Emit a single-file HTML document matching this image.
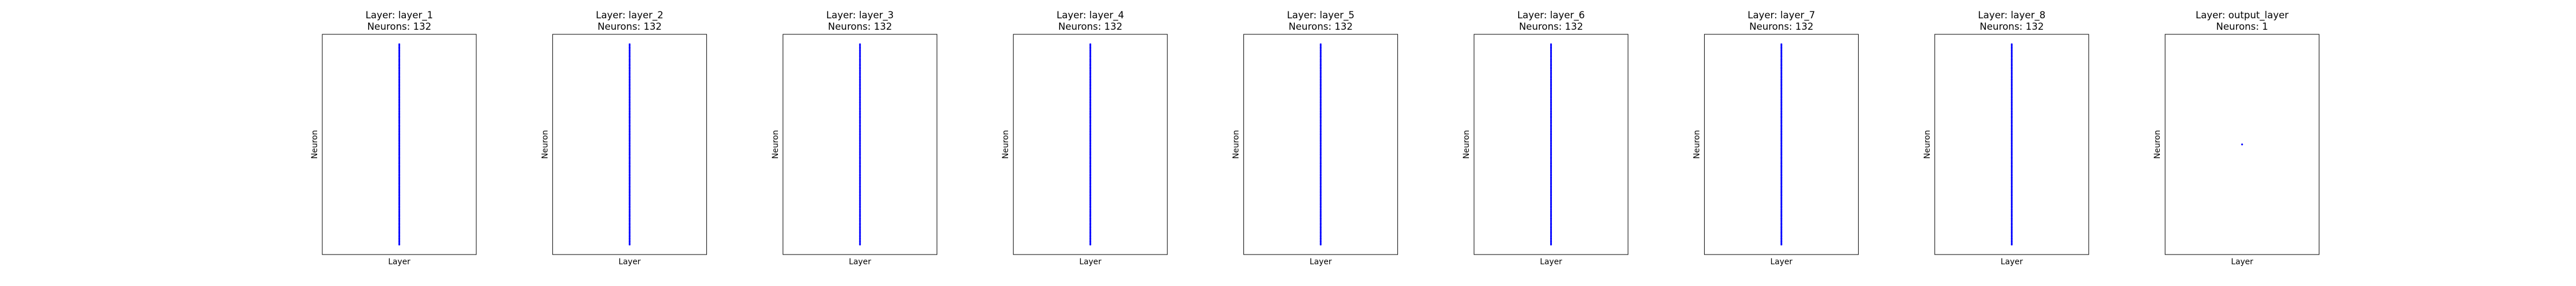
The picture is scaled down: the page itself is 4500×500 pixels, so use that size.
<!DOCTYPE html>
<html><head><meta charset="utf-8"><style>
body{margin:0;background:#fff;}
svg{display:block;font-family:"DejaVu Sans","Liberation Sans",sans-serif;}
</style></head><body>
<svg id="chart" width="4500" height="500"></svg>
<script>
const layerNames = ["layer_1","layer_2","layer_3","layer_4","layer_5","layer_6","layer_7","layer_8","output_layer"];
const neuronCounts = [132,132,132,132,132,132,132,132,1];
const layerX = [0,0,0,0,0,0,0,0,0];

const SVGNS = "http://www.w3.org/2000/svg";
const chartSvg = document.getElementById("chart");
function mk(tag, attrs){const e=document.createElementNS(SVGNS,tag);for(const k in attrs)e.setAttribute(k,attrs[k]);return e;}
const axW = 269, axH = 385, axTop = 60, firstLeft = 563, panelStep = 402.4;
layerNames.forEach((name, li) => {
  const left = firstLeft + li*panelStep;
  const g = mk("g", {});
  
  
  chartSvg.appendChild(g);
  const n = neuronCounts[li];
  const yMin = n > 1 ? 0 : -0.05, yMax = n > 1 ? n-1 : 0.05;
  const pad = (yMax - yMin)*0.05;
  const ys = v => axTop + axH - ((v - (yMin-pad)) / ((yMax+pad)-(yMin-pad))) * axH;
  const xs = v => left + axW/2 + v * axW;
  for (let i = 0; i < n; i++) {
    const c = mk("circle", {cx: xs(layerX[li]), cy: ys(i), r: 1.6, fill: "#0000ff"});
    
    
    g.appendChild(c);
  }
  const frame = mk("rect", {x: left, y: axTop, width: axW, height: axH, fill: "none", stroke: "#000", "stroke-width": 1});
  
  
  g.appendChild(frame);
  const t1 = mk("text", {x: left+axW/2, y: 32, "text-anchor": "middle", "font-size": 16.7});
  t1.textContent = "Layer: " + name;
  
  
  g.appendChild(t1);
  const t2 = mk("text", {x: left+axW/2, y: 52, "text-anchor": "middle", "font-size": 16.7});
  t2.textContent = "Neurons: " + n;
  
  
  g.appendChild(t2);
  const xl = mk("text", {x: left+axW/2, y: 462, "text-anchor": "middle", "font-size": 13.9});
  xl.textContent = "Layer";
  
  
  g.appendChild(xl);
  const yl = mk("text", {x: 0, y: 0, "text-anchor": "middle", "font-size": 13.9, transform: `translate(${left-9},${axTop+axH/2}) rotate(-90)`});
  yl.textContent = "Neuron";
  
  
  g.appendChild(yl);
});
</script>
</body></html>
